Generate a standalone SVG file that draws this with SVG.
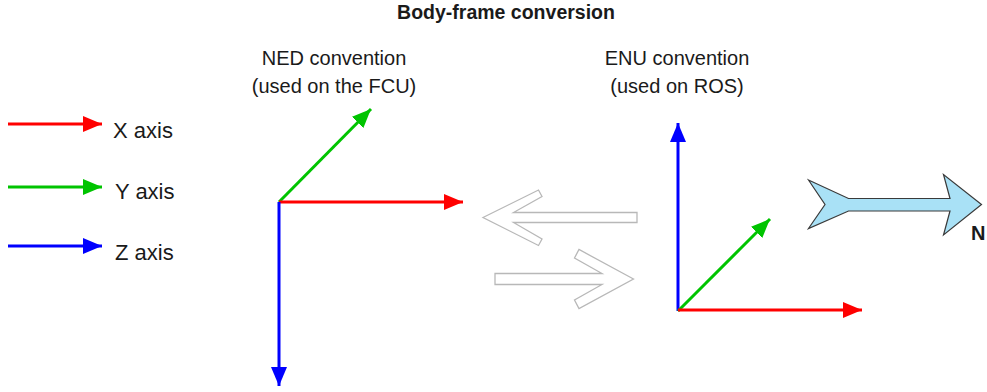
<svg xmlns="http://www.w3.org/2000/svg" width="987" height="392" viewBox="0 0 987 392">
  <style>
    .lbl { font-family: "Liberation Sans", Arial, sans-serif; fill: #1a1a1a; }
    .title { font-size: 19.5px; font-weight: bold; }
    .conv { font-size: 20px; text-anchor: middle; }
    .leg { font-size: 22px; }
    .ax { stroke-width: 3; fill: none; }
    .x { stroke: #ff0000; }
    .y { stroke: #00c400; }
    .z { stroke: #0000ff; }
    .swap { fill: #ffffff; stroke: #b8b8b8; stroke-width: 1.3; stroke-linejoin: miter; }
    .north { fill: #a9e1f6; stroke: #3a3a3a; stroke-width: 1.2; stroke-linejoin: miter; }
  </style>
  <defs>
    <marker id="hx" markerUnits="userSpaceOnUse" markerWidth="20" markerHeight="16" refX="19" refY="8" orient="auto">
      <path d="M0,0 L19,8 L0,16 z" fill="#ff0000"/>
    </marker>
    <marker id="hy" markerUnits="userSpaceOnUse" markerWidth="20" markerHeight="16" refX="19" refY="8" orient="auto">
      <path d="M0,0 L19,8 L0,16 z" fill="#00c400"/>
    </marker>
    <marker id="hz" markerUnits="userSpaceOnUse" markerWidth="20" markerHeight="16" refX="19" refY="8" orient="auto">
      <path d="M0,0 L19,8 L0,16 z" fill="#0000ff"/>
    </marker>
  </defs>

  <!-- heading -->
  <g id="title">
    <text class="lbl title" x="506" y="19" text-anchor="middle">Body-frame conversion</text>
  </g>

  <!-- axis legend -->
  <g id="legend">
    <line class="ax x" x1="8" y1="124" x2="102" y2="124" marker-end="url(#hx)"/>
    <text class="lbl leg" x="113" y="138">X axis</text>
    <line class="ax y" x1="8" y1="187" x2="102" y2="187" marker-end="url(#hy)"/>
    <text class="lbl leg" x="115" y="199">Y axis</text>
    <line class="ax z" x1="8" y1="246" x2="102" y2="246" marker-end="url(#hz)"/>
    <text class="lbl leg" x="115" y="260">Z axis</text>
  </g>

  <!-- NED frame -->
  <g id="ned">
    <text class="lbl conv" x="334" y="65">NED convention</text>
    <text class="lbl conv" x="334" y="93">(used on the FCU)</text>
    <line class="ax y" x1="279" y1="202" x2="371" y2="109" marker-end="url(#hy)"/>
    <line class="ax x" x1="279" y1="202" x2="463" y2="202" marker-end="url(#hx)"/>
    <line class="ax z" x1="279" y1="202" x2="279" y2="386" marker-end="url(#hz)"/>
  </g>

  <!-- ENU frame -->
  <g id="enu">
    <text class="lbl conv" x="677" y="65">ENU convention</text>
    <text class="lbl conv" x="677" y="93">(used on ROS)</text>
    <line class="ax z" x1="678" y1="311" x2="678" y2="123" marker-end="url(#hz)"/>
    <line class="ax y" x1="678" y1="311" x2="770" y2="219" marker-end="url(#hy)"/>
    <line class="ax x" x1="678" y1="310" x2="862" y2="310" marker-end="url(#hx)"/>
  </g>

  <!-- conversion arrows between frames -->
  <g id="conversion">
    <path class="swap" d="M483,217.5 L538.5,190 L542,196.5 L513.5,212.5 L637,212.5 L637,222.5 L513.5,222.5 L542,239 L538.5,245.5 z"/>
    <path class="swap" d="M633.5,279 L579,249.5 L574.5,258 L602,273.5 L495,273.5 L495,284.5 L602,284.5 L574.5,300 L579,308.5 z"/>
  </g>

  <!-- north indicator -->
  <g id="north">
    <path class="north" d="M808.5,180 L848.5,198.5 L950,198.5 L943.5,174.5 L981.5,204.5 L943.5,235 L950,211 L848.5,211 L808.5,228.5 L825,204.5 z"/>
    <text class="lbl" x="971" y="240" font-size="20" font-weight="bold">N</text>
  </g>
</svg>
